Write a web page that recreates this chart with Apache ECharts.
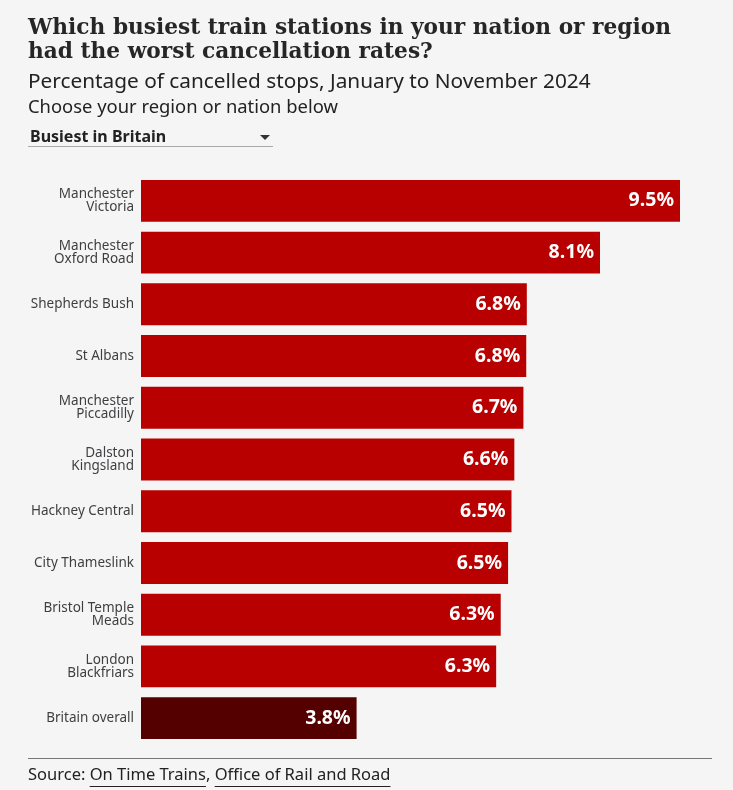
<!DOCTYPE html>
<html><head><meta charset="utf-8">
<script src="https://cdn.jsdelivr.net/npm/echarts@6/dist/echarts.min.js"></script>
<style>html,body{margin:0;padding:0;background:#f5f5f5;}#c{width:733px;height:790px;}</style>
</head><body><div id="c"></div>
<script>
const stations = ["Manchester\nVictoria","Manchester\nOxford Road","Shepherds Bush","St Albans","Manchester\nPiccadilly","Dalston\nKingsland","Hackney Central","City Thameslink","Bristol Temple\nMeads","London\nBlackfriars","Britain overall"];
const rates = [9.5, 8.09, 6.8, 6.79, 6.74, 6.58, 6.53, 6.47, 6.34, 6.26, 3.8];
const highlight = "Britain overall";

const chart = echarts.init(document.getElementById('c'));
const sans = "Noto Sans";

// source line layout via text measuring
const srcFont = '16.5px "Noto Sans"';
const cv = document.createElement('canvas').getContext('2d');
cv.font = srcFont;
const parts = [['Source: ', false], ['On Time Trains', true], [', ', false], ['Office of Rail and Road', true]];
let x = 28;
const srcGraphics = [];
parts.forEach(([t, u]) => {
  const w = cv.measureText(t).width;
  srcGraphics.push({type: 'text', left: x, top: 767, style: {text: t, font: srcFont, fill: '#222'}});
  if (u) srcGraphics.push({type: 'line', shape: {x1: x, y1: 786.5, x2: x + w, y2: 786.5}, style: {stroke: '#222', lineWidth: 1}});
  x += w;
});

chart.setOption({
  backgroundColor: '#f5f5f5',
  animation: false,
  grid: {left: 141, right: 53, top: 175, bottom: 46},
  xAxis: {type: 'value', min: 0, max: 9.5, show: false},
  yAxis: {
    type: 'category', inverse: true, data: stations,
    axisLine: {show: false}, axisTick: {show: false},
    axisLabel: {color: '#3f3f42', fontFamily: sans, fontSize: 13.5, lineHeight: 13.5, margin: 7}
  },
  series: [{
    type: 'bar', barCategoryGap: '19%',
    data: rates.map((v, i) => ({value: v, itemStyle: {color: stations[i] === highlight ? '#550000' : '#b80000'}})),
    label: {show: true, position: 'insideRight', distance: 6, color: '#fff', fontFamily: sans, fontWeight: 'bold', fontSize: 19.5,
      formatter: p => p.value.toFixed(1) + '%'}
  }],
  graphic: [
    {type: 'text', left: 28, top: 16, style: {text: 'Which busiest train stations in your nation or region\nhad the worst cancellation rates?', font: 'bold 21.7px "DejaVu Serif"', lineHeight: 24.5, fill: '#262626'}},
    {type: 'text', left: 28, top: 72, style: {text: 'Percentage of cancelled stops, January to November 2024', font: '20.8px "Noto Sans"', fill: '#222'}},
    {type: 'text', left: 28, top: 99, style: {text: 'Choose your region or nation below', font: '18.4px "Noto Sans"', fill: '#222'}},
    {type: 'text', left: 30, top: 129, style: {text: 'Busiest in Britain', font: 'bold 16px "Noto Sans"', fill: '#222'}},
    {type: 'polygon', shape: {points: [[260,135],[270,135],[265,140]]}, style: {fill: '#333'}},
    {type: 'line', shape: {x1: 28, y1: 146.5, x2: 273, y2: 146.5}, style: {stroke: '#aaa', lineWidth: 1}},
    {type: 'line', shape: {x1: 28, y1: 758.5, x2: 712, y2: 758.5}, style: {stroke: '#777', lineWidth: 1}}
  ].concat(srcGraphics)
});
</script></body></html>
